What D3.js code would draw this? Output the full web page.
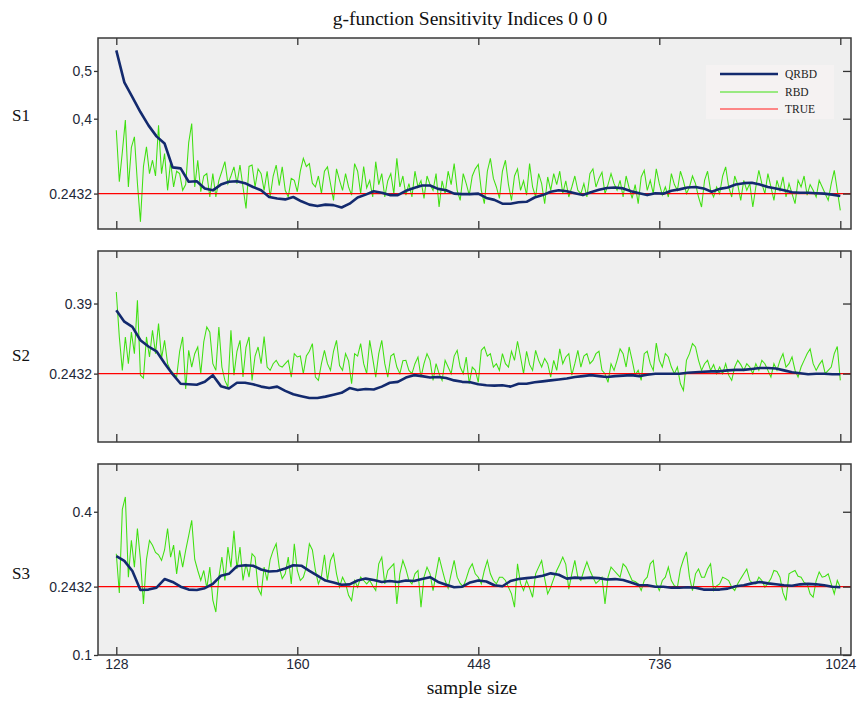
<!DOCTYPE html>
<html>
<head>
<meta charset="utf-8">
<script src="https://cdn.jsdelivr.net/npm/d3@7"></script>
<style>
  body { margin: 0; background: #fff; }
  svg { display: block; }
</style>
</head>
<body>
<svg id="chart" width="858" height="704"></svg>
<script>
// ---- data ----------------------------------------------------------------
const sampleTickLabels = ["128", "160", "448", "736", "1024"];
const trueValue = 0.2432;
const indexNames = ["S1", "S2", "S3"];
const seriesNames = ["QRBD", "RBD", "TRUE"];

const yTickValues = [[0.5, 0.4, 0.2432], [0.39, 0.2432], [0.4, 0.2432, 0.1]];
const yTickLabels = [["0,5", "0,4", "0.2432"], ["0.39", "0.2432"], ["0.4", "0.2432", "0.1"]];

// QRBD running estimates, evenly spaced over the sample-size axis
const qrbdS1 = [
  0.543,0.476,0.445,0.414,0.386,0.363,0.348,0.298,0.296,0.268,
  0.269,0.254,0.250,0.262,0.268,0.269,0.265,0.257,0.250,0.236,
  0.233,0.231,0.236,0.227,0.220,0.217,0.220,0.219,0.214,0.222,
  0.235,0.241,0.248,0.245,0.240,0.240,0.249,0.255,0.260,0.260,
  0.253,0.250,0.243,0.242,0.242,0.243,0.234,0.230,0.222,0.222,
  0.225,0.226,0.235,0.240,0.247,0.250,0.248,0.244,0.240,0.246,
  0.251,0.255,0.256,0.254,0.248,0.244,0.240,0.244,0.243,0.249,
  0.252,0.256,0.257,0.254,0.247,0.253,0.256,0.262,0.265,0.266,
  0.262,0.257,0.254,0.250,0.246,0.245,0.245,0.244,0.243,0.241,
  0.238];
const qrbdS2 = [
  0.376,0.352,0.341,0.313,0.300,0.290,0.265,0.242,0.222,0.221,
  0.220,0.226,0.240,0.217,0.212,0.224,0.224,0.221,0.216,0.213,
  0.216,0.207,0.200,0.196,0.192,0.192,0.195,0.199,0.203,0.213,
  0.209,0.211,0.210,0.216,0.224,0.226,0.235,0.240,0.238,0.235,
  0.236,0.234,0.229,0.226,0.225,0.221,0.219,0.218,0.219,0.216,
  0.222,0.222,0.225,0.227,0.229,0.231,0.233,0.236,0.238,0.240,
  0.238,0.236,0.238,0.239,0.240,0.238,0.241,0.243,0.243,0.243,
  0.243,0.245,0.246,0.247,0.248,0.248,0.250,0.251,0.251,0.253,
  0.255,0.255,0.254,0.250,0.246,0.244,0.242,0.243,0.243,0.242,
  0.242];
const qrbdS3 = [
  0.307,0.297,0.276,0.236,0.237,0.241,0.259,0.253,0.243,0.237,
  0.236,0.240,0.249,0.266,0.270,0.286,0.288,0.287,0.279,0.275,
  0.276,0.281,0.288,0.287,0.276,0.266,0.256,0.252,0.247,0.248,
  0.256,0.260,0.257,0.253,0.255,0.253,0.256,0.255,0.259,0.263,
  0.253,0.247,0.242,0.243,0.252,0.256,0.254,0.246,0.244,0.255,
  0.259,0.261,0.263,0.266,0.271,0.268,0.260,0.262,0.261,0.262,
  0.261,0.258,0.259,0.257,0.252,0.246,0.246,0.243,0.243,0.241,
  0.241,0.242,0.241,0.237,0.237,0.237,0.239,0.244,0.246,0.250,
  0.253,0.250,0.248,0.246,0.245,0.248,0.249,0.248,0.246,0.243,
  0.242];

// RBD estimates, evenly spaced over the sample-size axis
const rbdS1 = [
  0.376,0.268,0.330,0.397,0.257,0.340,0.362,0.265,0.184,0.300,
  0.341,0.285,0.313,0.280,0.386,0.285,0.327,0.250,0.310,0.257,
  0.290,0.285,0.250,0.262,0.350,0.390,0.257,0.313,0.247,0.280,
  0.285,0.236,0.285,0.236,0.271,0.290,0.310,0.264,0.280,0.299,
  0.264,0.303,0.257,0.212,0.300,0.303,0.257,0.295,0.285,0.250,
  0.290,0.236,0.280,0.303,0.260,0.299,0.250,0.236,0.275,0.271,
  0.247,0.290,0.317,0.300,0.306,0.265,0.257,0.280,0.243,0.290,
  0.299,0.264,0.229,0.295,0.271,0.250,0.285,0.257,0.240,0.306,
  0.290,0.243,0.300,0.255,0.271,0.236,0.310,0.262,0.285,0.236,
  0.270,0.285,0.243,0.317,0.257,0.280,0.240,0.264,0.236,0.290,
  0.257,0.270,0.233,0.280,0.262,0.250,0.285,0.215,0.270,0.243,
  0.290,0.262,0.306,0.250,0.229,0.285,0.264,0.240,0.280,0.295,
  0.304,0.250,0.222,0.290,0.317,0.275,0.257,0.233,0.290,0.313,
  0.262,0.229,0.280,0.295,0.250,0.270,0.240,0.306,0.257,0.236,
  0.285,0.264,0.222,0.278,0.250,0.285,0.262,0.290,0.243,0.270,
  0.236,0.257,0.280,0.250,0.243,0.264,0.236,0.285,0.295,0.257,
  0.275,0.288,0.243,0.262,0.285,0.264,0.250,0.271,0.236,0.280,
  0.255,0.233,0.262,0.222,0.278,0.292,0.250,0.271,0.243,0.295,
  0.264,0.240,0.257,0.236,0.285,0.262,0.250,0.290,0.270,0.243,
  0.257,0.280,0.264,0.236,0.215,0.271,0.290,0.250,0.236,0.257,
  0.243,0.280,0.299,0.257,0.236,0.280,0.262,0.229,0.271,0.250,
  0.264,0.215,0.257,0.292,0.264,0.243,0.285,0.257,0.229,0.271,
  0.250,0.278,0.236,0.264,0.243,0.222,0.271,0.257,0.280,0.240,
  0.262,0.250,0.236,0.271,0.257,0.243,0.229,0.264,0.292,0.250,
  0.208];
const rbdS2 = [
  0.414,0.320,0.250,0.320,0.264,0.330,0.285,0.397,0.240,0.234,
  0.320,0.278,0.334,0.285,0.348,0.275,0.313,0.264,0.250,0.243,
  0.236,0.290,0.320,0.211,0.292,0.257,0.285,0.299,0.243,0.310,
  0.341,0.330,0.264,0.250,0.341,0.257,0.229,0.215,0.334,0.240,
  0.290,0.313,0.236,0.299,0.320,0.229,0.280,0.299,0.264,0.321,
  0.257,0.250,0.264,0.271,0.260,0.257,0.264,0.271,0.236,0.285,
  0.278,0.280,0.243,0.280,0.290,0.306,0.236,0.229,0.264,0.292,
  0.264,0.250,0.290,0.313,0.260,0.250,0.285,0.270,0.222,0.285,
  0.280,0.306,0.264,0.243,0.313,0.275,0.236,0.285,0.313,0.264,
  0.236,0.280,0.285,0.257,0.243,0.270,0.271,0.250,0.243,0.264,
  0.278,0.236,0.264,0.285,0.271,0.229,0.264,0.243,0.229,0.271,
  0.257,0.243,0.280,0.292,0.257,0.243,0.278,0.222,0.257,0.250,
  0.225,0.292,0.299,0.280,0.285,0.257,0.264,0.250,0.285,0.264,
  0.257,0.290,0.271,0.311,0.278,0.243,0.290,0.262,0.250,0.292,
  0.271,0.257,0.275,0.264,0.236,0.271,0.250,0.295,0.264,0.278,
  0.285,0.240,0.264,0.292,0.257,0.280,0.285,0.264,0.271,0.285,
  0.290,0.250,0.243,0.225,0.264,0.250,0.271,0.295,0.285,0.257,
  0.299,0.271,0.240,0.250,0.229,0.285,0.290,0.264,0.250,0.307,
  0.271,0.257,0.285,0.278,0.257,0.243,0.257,0.222,0.208,0.271,
  0.285,0.306,0.299,0.271,0.250,0.264,0.271,0.250,0.262,0.243,
  0.257,0.243,0.264,0.240,0.229,0.257,0.271,0.262,0.250,0.264,
  0.257,0.243,0.264,0.250,0.271,0.264,0.250,0.236,0.264,0.250,
  0.271,0.285,0.257,0.264,0.278,0.250,0.236,0.257,0.271,0.285,
  0.295,0.264,0.250,0.262,0.271,0.243,0.250,0.257,0.285,0.300,
  0.229];
const rbdS3 = [
  0.312,0.230,0.405,0.431,0.263,0.340,0.284,0.365,0.300,0.207,
  0.300,0.340,0.330,0.315,0.310,0.298,0.320,0.365,0.305,0.330,
  0.270,0.319,0.284,0.319,0.350,0.382,0.300,0.277,0.256,0.277,
  0.240,0.284,0.215,0.190,0.263,0.305,0.256,0.326,0.284,0.360,
  0.280,0.326,0.256,0.291,0.263,0.312,0.305,0.240,0.226,0.284,
  0.256,0.300,0.319,0.333,0.284,0.260,0.270,0.305,0.249,0.333,
  0.277,0.256,0.263,0.284,0.333,0.320,0.277,0.249,0.265,0.310,
  0.256,0.298,0.312,0.270,0.242,0.263,0.250,0.225,0.214,0.256,
  0.242,0.263,0.256,0.249,0.256,0.245,0.235,0.291,0.305,0.249,
  0.277,0.284,0.291,0.207,0.270,0.298,0.280,0.256,0.249,0.270,
  0.277,0.200,0.263,0.284,0.270,0.235,0.270,0.305,0.280,0.256,
  0.240,0.270,0.298,0.263,0.250,0.243,0.260,0.280,0.291,0.270,
  0.263,0.249,0.277,0.298,0.270,0.256,0.249,0.263,0.263,0.256,
  0.242,0.228,0.200,0.291,0.250,0.235,0.256,0.240,0.221,0.270,
  0.284,0.298,0.260,0.228,0.242,0.260,0.277,0.290,0.305,0.290,
  0.238,0.270,0.298,0.263,0.256,0.277,0.295,0.277,0.263,0.250,
  0.256,0.263,0.207,0.263,0.284,0.277,0.270,0.263,0.291,0.284,
  0.270,0.256,0.254,0.249,0.235,0.256,0.263,0.291,0.298,0.249,
  0.235,0.256,0.263,0.284,0.256,0.245,0.242,0.280,0.300,0.316,
  0.263,0.235,0.270,0.280,0.263,0.263,0.280,0.291,0.235,0.245,
  0.249,0.263,0.260,0.256,0.242,0.235,0.249,0.260,0.270,0.280,
  0.256,0.250,0.249,0.263,0.256,0.242,0.250,0.260,0.277,0.275,
  0.263,0.230,0.214,0.270,0.274,0.277,0.265,0.263,0.252,0.249,
  0.228,0.221,0.256,0.274,0.263,0.265,0.270,0.249,0.228,0.256,
  0.242];

const qrbdSeries = [qrbdS1, qrbdS2, qrbdS3];
const rbdSeries = [rbdS1, rbdS2, rbdS3];

// ---- layout --------------------------------------------------------------
const colors = { qrbd: "#132a6e", rbd: "#3fe010", truth: "#ff0000", legendTruth: "#ff6262" };
const frameLeft = 98, frameRight = 851, frameHeight = 191;
const panelTops = [38, 251, 464];
const yDomains = [[0.169, 0.569], [0.1, 0.5], [0.1, 0.5]];
const nameBaselines = [121, 361, 579];
const axisText = "#1e2838";
const sansFont = "'Liberation Sans', Arial, sans-serif";
const serifFont = "'Liberation Serif', 'Times New Roman', serif";

const svg = d3.select("#chart");
svg.append("rect").attr("width", 858).attr("height", 704).attr("fill", "#fff");

const x = d3.scaleLinear()
  .domain([0, sampleTickLabels.length - 1])
  .range([116.3, 840.3]);
const tickPositions = d3.range(sampleTickLabels.length);
const posOf = (i, n) => i * (sampleTickLabels.length - 1) / (n - 1);

svg.append("text")
  .attr("x", 470).attr("y", 25)
  .attr("text-anchor", "middle")
  .attr("font-family", serifFont).attr("font-size", 19.5)
  .attr("fill", "#111")
  .text("g-function Sensitivity Indices 0 0 0");

panelTops.forEach((top, p) => {
  const bottom = top + frameHeight;
  const y = d3.scaleLinear().domain(yDomains[p]).range([bottom, top]);
  const g = svg.append("g");

  g.append("rect")
    .attr("x", frameLeft).attr("y", top)
    .attr("width", frameRight - frameLeft).attr("height", frameHeight)
    .attr("fill", "#efefef");

  const clipId = "clip" + p;
  svg.append("clipPath").attr("id", clipId)
    .append("rect")
    .attr("x", frameLeft).attr("y", top)
    .attr("width", frameRight - frameLeft).attr("height", frameHeight);

  const plot = g.append("g").attr("clip-path", `url(#${clipId})`);

  const line = d3.line()
    .x(d => x(d.pos))
    .y(d => y(d.value));

  const toPoints = arr => arr.map((v, i) => ({ pos: posOf(i, arr.length), value: v }));

  // RBD: raw jagged estimates
  plot.append("path")
    .datum(toPoints(rbdSeries[p]))
    .attr("d", line)
    .attr("fill", "none")
    .attr("stroke", colors.rbd)
    .attr("stroke-width", 1.05)
    .attr("stroke-linejoin", "miter");

  plot.append("line")
    .attr("x1", frameLeft).attr("x2", frameRight)
    .attr("y1", y(trueValue)).attr("y2", y(trueValue))
    .attr("stroke", colors.truth).attr("stroke-width", 1.3);

  // QRBD: running estimate
  plot.append("path")
    .datum(toPoints(qrbdSeries[p]))
    .attr("d", line)
    .attr("fill", "none")
    .attr("stroke", colors.qrbd)
    .attr("stroke-width", 2.6)
    .attr("stroke-linejoin", "round");

  // axes
  const styleAxis = sel => {
    sel.select(".domain").remove();
    sel.selectAll(".tick line").attr("stroke", "#333").attr("stroke-width", 1.3);
    sel.selectAll(".tick text")
      .attr("fill", axisText)
      .attr("font-family", sansFont)
      .attr("font-size", 14);
  };

  g.append("g")
    .attr("transform", `translate(0,${bottom})`)
    .call(d3.axisBottom(x).tickValues(tickPositions)
      .tickFormat(p === panelTops.length - 1 ? (d => sampleTickLabels[d]) : () => "")
      .tickSizeInner(-8).tickSizeOuter(0).tickPadding(4))
    .call(styleAxis);

  g.append("g")
    .attr("transform", `translate(0,${top})`)
    .call(d3.axisTop(x).tickValues(tickPositions).tickFormat(() => "")
      .tickSizeInner(-7).tickSizeOuter(0))
    .call(styleAxis);

  g.append("g")
    .attr("transform", `translate(${frameLeft},0)`)
    .call(d3.axisLeft(y).tickValues(yTickValues[p])
      .tickFormat((d, i) => yTickLabels[p][i])
      .tickSizeInner(4).tickSizeOuter(0).tickPadding(2))
    .call(styleAxis);

  g.append("g")
    .attr("transform", `translate(${frameRight},0)`)
    .call(d3.axisRight(y).tickValues(yTickValues[p]).tickFormat(() => "")
      .tickSizeInner(-8).tickSizeOuter(0))
    .call(styleAxis);

  g.append("rect")
    .attr("x", frameLeft).attr("y", top)
    .attr("width", frameRight - frameLeft).attr("height", frameHeight)
    .attr("fill", "none")
    .attr("stroke", "#3a3a3a").attr("stroke-width", 1.5);

  svg.append("text")
    .attr("x", 12).attr("y", nameBaselines[p])
    .attr("font-family", serifFont).attr("font-size", 17)
    .attr("fill", "#111")
    .text(indexNames[p]);

  // legend in the first panel
  if (p === 0) {
    const lg = g.append("g");
    lg.append("rect")
      .attr("x", 706).attr("y", 65).attr("width", 128).attr("height", 54)
      .attr("fill", "#f5f2f2");
    const legendColors = [colors.qrbd, colors.rbd, colors.legendTruth];
    const legendWidths = [2.6, 1, 1.3];
    const rowY = [74, 92, 109];
    seriesNames.forEach((name, k) => {
      lg.append("line")
        .attr("x1", 720).attr("x2", 778)
        .attr("y1", rowY[k]).attr("y2", rowY[k])
        .attr("stroke", legendColors[k]).attr("stroke-width", legendWidths[k]);
      lg.append("text")
        .attr("x", 785).attr("y", rowY[k] + 4)
        .attr("font-family", serifFont).attr("font-size", 11.5)
        .attr("fill", "#222")
        .text(name);
    });
  }
});

svg.append("text")
  .attr("x", 472).attr("y", 694)
  .attr("text-anchor", "middle")
  .attr("font-family", serifFont).attr("font-size", 19.5)
  .attr("fill", "#111")
  .text("sample size");
</script>
</body>
</html>
